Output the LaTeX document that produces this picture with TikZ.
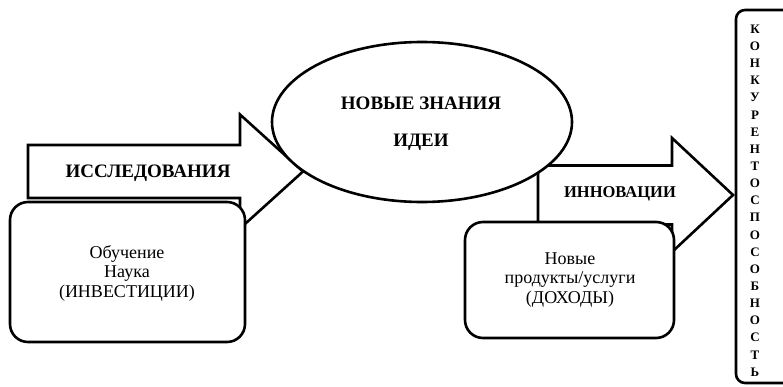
\documentclass[tikz,border=0pt]{standalone}
\usepackage{fontspec}
\setmainfont{Liberation Serif}
\usetikzlibrary{shapes.geometric}
\newcommand{\lw}{2.6pt}
% start, head start, tip, centre y, shaft half height, head half height
\newcommand{\blockarrow}[6]{%
    \draw[blockarrow] (#1,#4-#5) -- (#2,#4-#5) -- (#2,#4-#6) -- (#3,#4)
        -- (#2,#4+#6) -- (#2,#4+#5) -- (#1,#4+#5) -- cycle;}
\tikzset{
    blockarrow/.style={draw, fill=white, line join=miter},
    roundbox/.style={draw, fill=white, rounded corners=18pt},
    boldlabel/.style={font=\bfseries\fontsize{19}{22}\selectfont, inner sep=0pt},
    boxtext/.style={align=center, inner sep=0pt, font=\fontsize{18}{19.5}\selectfont},
    idea/.style={draw, fill=white, ellipse, minimum width=300pt, minimum height=160pt,
        align=center, font=\bfseries\fontsize{19}{37}\selectfont},
    vletter/.style={font=\bfseries\fontsize{13}{14}\selectfont, inner sep=0pt}
}
\begin{document}
\begin{tikzpicture}[x=1pt, y=-1pt, line width=\lw]
    \useasboundingbox (0,0) rectangle (783,387);
    \clip (0,0) rectangle (783,387);

    % research
    \blockarrow{28}{240}{303}{171.5}{26.5}{57}
    \node[boldlabel] (research) at (148,173) {ИССЛЕДОВАНИЯ};
    \draw[roundbox] (10,202) rectangle (245,342);
    \node[boxtext] (invest) at (127,273) {Обучение\\Наука\\(ИНВЕСТИЦИИ)};

    % innovation
    \blockarrow{538}{672}{733}{195}{29.5}{57}
    \node[boldlabel, font=\bfseries\fontsize{16.5}{20}\selectfont] (innov) at (620,194) {ИННОВАЦИИ};
    \node[idea] (knowledge) at (422,122) {};
    \node[align=center, font=\bfseries\fontsize{19}{37}\selectfont] (ideas) at (421,124) {НОВЫЕ ЗНАНИЯ\\ИДЕИ};
    \draw[roundbox] (465,222) rectangle (674,338);
    \node[boxtext] (income) at (570,280) {Новые\\продукты/услуги\\(ДОХОДЫ)};

    % competitiveness
    \draw[roundbox, rounded corners=9pt] (736,10) rectangle (820,383);
    \foreach \l [count=\i] in {К,О,Н,К,У,Р,Е,Н,Т,О,С,П,О,С,О,Б,Н,О,С,Т,Ь}
        \node[vletter] (c\i) at (755,{29+(\i-1)*17.15}) {\l};
\end{tikzpicture}
\end{document}
